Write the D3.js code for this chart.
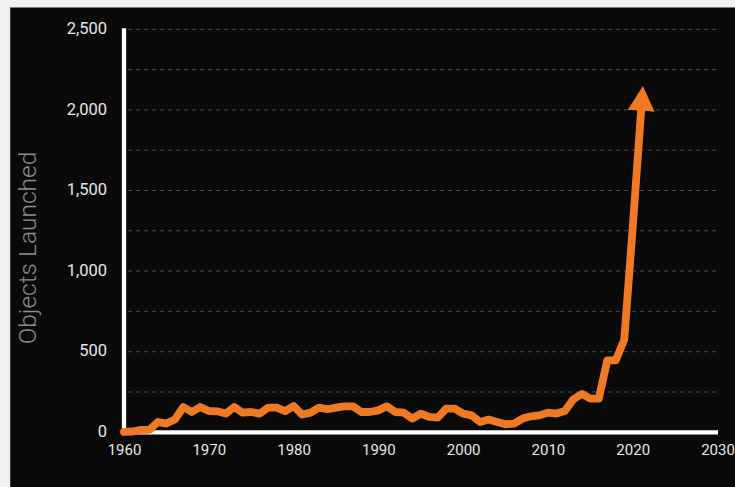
<!DOCTYPE html>
<html>
<head>
<meta charset="utf-8">
<script src="https://cdn.jsdelivr.net/npm/d3@7"></script>
<style>
  html, body { margin: 0; padding: 0; background: #f0f1f3; }
  svg { display: block; }
</style>
</head>
<body>
<svg id="chart" width="735" height="487"></svg>
<script>
const years = d3.range(1960, 2022);
const launched = [
  2, 5, 15, 15, 64, 54, 79, 157, 126, 157,
  132, 130, 116, 157, 122, 126, 116, 153, 153, 132,
  163, 110, 122, 153, 143, 153, 161, 161, 126, 126,
  136, 161, 126, 122, 85, 116, 95, 91, 147, 147,
  116, 105, 64, 79, 64, 50, 54, 85, 99, 105,
  122, 116, 132, 205, 238, 209, 209, 446, 446, 575,
  1270, 2000
];
const xTicks = [1960, 1970, 1980, 1990, 2000, 2010, 2020, 2030];
const yTicks = [0, 500, 1000, 1500, 2000, 2500];
const gridValues = d3.range(250, 2501, 250);
const yTitle = "Objects Launched";

const svg = d3.select("#chart");
const W = 735, H = 487;

svg.append("rect")
  .attr("x", 10).attr("y", 8).attr("width", W - 10).attr("height", H - 8)
  .attr("fill", "#0a0a0a");
svg.append("line")
  .attr("x1", 10).attr("x2", W).attr("y1", 7.5).attr("y2", 7.5)
  .attr("stroke", "#7a7a7a").attr("stroke-width", 1);
svg.append("line")
  .attr("x1", 10.5).attr("x2", 10.5).attr("y1", 8).attr("y2", H)
  .attr("stroke", "#3a3a3a").attr("stroke-width", 1);

const x = d3.scaleLinear().domain([1960, 2030]).range([124, 717.5]);
const y = d3.scaleLinear().domain([0, 2500]).range([432.3, 29.3]);

// gridlines
svg.append("g").selectAll("line").data(gridValues).join("line")
  .attr("x1", 128).attr("x2", 718)
  .attr("y1", d => y(d)).attr("y2", d => y(d))
  .attr("stroke", "#4a4a4a").attr("stroke-width", 1)
  .attr("stroke-dasharray", "4,4");

// axes lines
svg.append("line")
  .attr("x1", x(1960)).attr("x2", x(1960))
  .attr("y1", y(2500) - 1).attr("y2", y(0) + 2)
  .attr("stroke", "#fff").attr("stroke-width", 4.3);
svg.append("line")
  .attr("x1", x(1960) - 2).attr("x2", x(2030) + 0.5)
  .attr("y1", y(0)).attr("y2", y(0))
  .attr("stroke", "#fff").attr("stroke-width", 4.3);

// y axis labels
const yAxis = d3.axisLeft(y).tickValues(yTicks).tickFormat(d3.format(",")).tickSize(0).tickPadding(0);
const gy = svg.append("g").attr("transform", "translate(107,0)").call(yAxis);
gy.select(".domain").remove();
gy.selectAll("text")
  .attr("fill", "#e6e6e6")
  .attr("font-family", "Roboto, sans-serif")
  .attr("font-size", "16.5px")
  .attr("dy", "0.25em");

// x axis labels
const xAxis = d3.axisBottom(x).tickValues(xTicks).tickFormat(d3.format("d")).tickSize(0).tickPadding(0);
const gx = svg.append("g").attr("transform", "translate(0,444)").call(xAxis);
gx.select(".domain").remove();
gx.selectAll("text")
  .attr("fill", "#e6e6e6")
  .attr("font-family", "Roboto, sans-serif")
  .attr("font-size", "15px")
  .attr("dy", "0.71em");

// y title
svg.append("text")
  .attr("transform", "translate(36,248) rotate(-90)")
  .attr("text-anchor", "middle")
  .attr("fill", "#8c8c8c")
  .attr("font-family", "Roboto, sans-serif")
  .attr("font-weight", 300)
  .attr("font-size", "24.5px")
  .text(yTitle);

// arrow marker
const defs = svg.append("defs");
defs.append("marker")
  .attr("id", "arrow")
  .attr("markerUnits", "userSpaceOnUse")
  .attr("viewBox", "0 -14 26 28")
  .attr("markerWidth", 26).attr("markerHeight", 28)
  .attr("refX", 1).attr("refY", 0)
  .attr("orient", "auto")
  .append("path")
  .attr("d", "M0,-13.5L25,0L0,13.5Z")
  .attr("fill", "#f07923");

const data = years.map((yr, i) => ({ year: yr, value: launched[i] }));
const line = d3.line().x(d => x(d.year)).y(d => y(d.value)).curve(d3.curveLinear);

svg.append("path")
  .datum(data)
  .attr("d", line)
  .attr("fill", "none")
  .attr("stroke", "#f07923")
  .attr("stroke-width", 7.8)
  .attr("stroke-linejoin", "round")
  .attr("stroke-linecap", "round")
  .attr("marker-end", "url(#arrow)");
</script>
</body>
</html>
